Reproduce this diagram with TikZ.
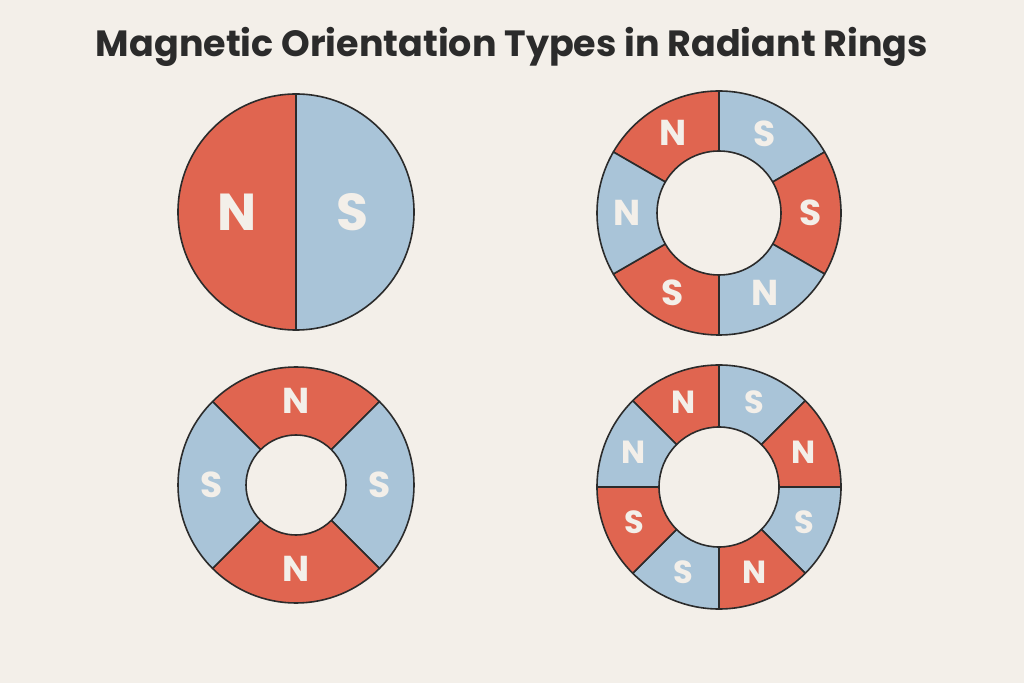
\documentclass[tikz,border=0pt]{standalone}
\usepackage{fontspec}
\setmainfont{Poppins}
\usetikzlibrary{calc}
\definecolor{bgcol}{HTML}{F3EFE9}
\definecolor{northred}{HTML}{E06550}
\definecolor{southblue}{HTML}{A9C4D8}
\definecolor{edgecol}{HTML}{2B2B2B}
\tikzset{
    segment/.style = {draw=edgecol, line width=1.6pt, line join=round},
    pole/.style = {text=bgcol, font=\bfseries\fontsize{36}{36}\selectfont},
    bigpole/.style = {text=bgcol, font=\bfseries\fontsize{52}{52}\selectfont}
}
% ring segment: center, inner r, outer r, start angle, end angle, colour
\newcommand{\ringseg}[6]{%
    \begin{scope}[shift={(#1)}]
        \filldraw[segment, fill=#6] (#4:#3) arc[start angle=#4, end angle=#5, radius=#3]
            -- (#5:#2) arc[start angle=#5, end angle=#4, radius=#2] -- cycle;
    \end{scope}}
\begin{document}
\begin{tikzpicture}[x=1pt,y=1pt]
    \fill[bgcol] (0,0) rectangle (1024,683);
    \useasboundingbox (0,0) rectangle (1024,683);
    \node[text=edgecol, font=\bfseries\fontsize{36.5}{36.5}\selectfont] (title) at (512,636)
        {Magnetic Orientation Types in Radiant Rings};
    % diametric disc
    \coordinate (disc) at (296,471);
    \filldraw[segment, fill=northred] (296,589) arc[start angle=90, end angle=270, radius=118] -- cycle;
    \filldraw[segment, fill=southblue] (296,589) arc[start angle=90, end angle=-90, radius=118] -- cycle;
    \node[bigpole] (discN) at (237,471) {N};
    \node[bigpole] (discS) at (352,471) {S};
    % six-pole ring
    \coordinate (six) at (719,470);
    \foreach \a/\col in {90/northred, 30/southblue, -30/northred, -90/southblue, 210/northred, 150/southblue}
        \ringseg{six}{62}{122}{\a}{\a+60}{\col};
    \foreach \a/\lab [count=\i] in {120/N, 60/S, 0/S, -60/N, 240/S, 180/N}
        \node[pole] (six\i) at ($(six)+(\a:92)$) {\lab};
    % four-pole ring
    \coordinate (four) at (296,198);
    \foreach \a/\col in {45/northred, -45/southblue, 225/northred, 135/southblue}
        \ringseg{four}{50}{118}{\a}{\a+90}{\col};
    \foreach \a/\lab [count=\i] in {90/N, 0/S, 270/N, 180/S}
        \node[pole] (four\i) at ($(four)+(\a:84)$) {\lab};
    % eight-pole ring
    \coordinate (eight) at (719,196);
    \foreach \a/\col in {90/northred, 45/southblue, 0/northred, -45/southblue, -90/northred, 225/southblue, 180/northred, 135/southblue}
        \ringseg{eight}{60}{122}{\a}{\a+45}{\col};
    \foreach \a/\lab [count=\i] in {112.5/N, 67.5/S, 22.5/N, -22.5/S, -67.5/N, 247.5/S, 202.5/S, 157.5/N}
        \node[pole, font=\bfseries\fontsize{32}{32}\selectfont] (eight\i) at ($(eight)+(\a:92)$) {\lab};
\end{tikzpicture}
\end{document}
